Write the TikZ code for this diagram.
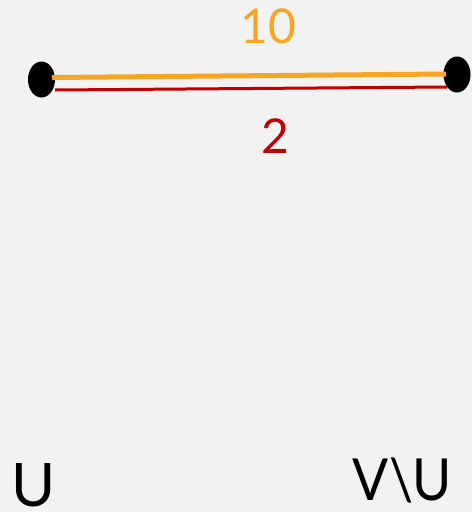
\documentclass[tikz,border=0pt]{standalone}
\usepackage{fontspec}
\setmainfont{Lato}
\usetikzlibrary{shapes.geometric}
\definecolor{bg}{RGB}{242,242,242}
\definecolor{orng}{RGB}{246,166,35}
\definecolor{rd}{RGB}{192,0,0}
\begin{document}
\begin{tikzpicture}[x=1pt,y=-1pt,
  dot/.style={ellipse,fill=black,minimum width=27pt,minimum height=36pt,inner sep=0pt},
  lbl/.style={inner sep=0pt,anchor=base,text depth=0pt},
  heavy/.style={orng,line width=5pt},
  light/.style={rd,line width=3pt}]
\fill[bg] (0,0) rectangle (472,512);
\useasboundingbox (0,0) rectangle (472,512);
\node[dot] (a) at (41.5,79.5) {};
\node[dot] (b) at (457,74.5) {};
\coordinate (o1) at (52,77.5);
\coordinate (o2) at (446,74);
\coordinate (r1) at (55,90);
\coordinate (r2) at (447,87);
\draw[light] (r1) -- (r2);
\draw[heavy] (o1) -- (o2);
\node[lbl,orng,font=\fontsize{48}{48}\selectfont] (w1) at (268,43) {10};
\node[lbl,rd,font=\fontsize{48}{48}\selectfont] (w2) at (275.5,153) {2};
\node[lbl,font=\fontsize{60}{60}\selectfont] (u) at (34,506) {U};
\node[lbl,font=\fontsize{58}{58}\selectfont,xscale=0.92] (vu) at (402.5,500.5) {V\textbackslash U};
\end{tikzpicture}
\end{document}
